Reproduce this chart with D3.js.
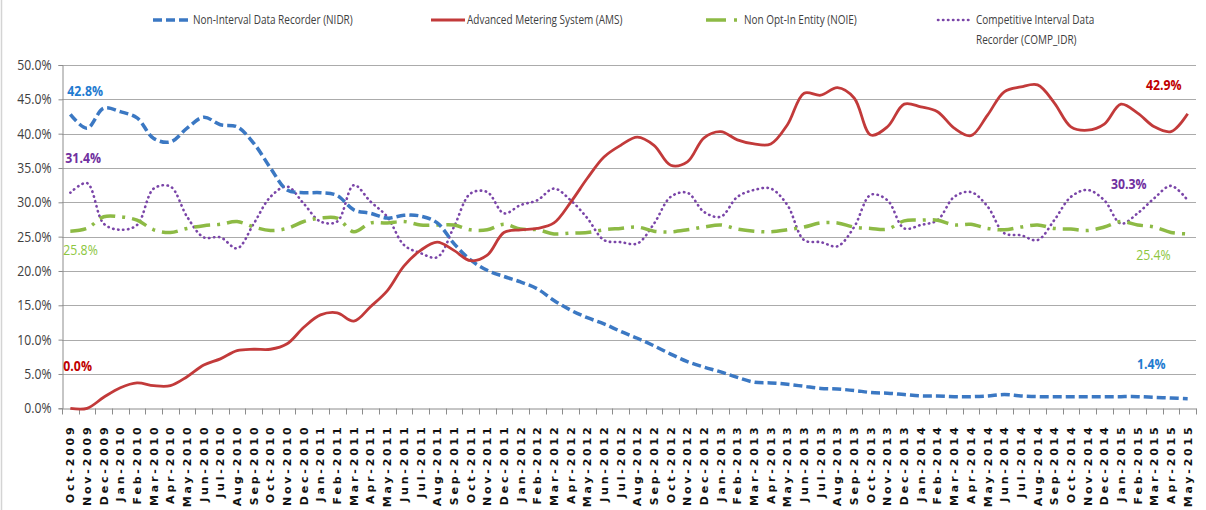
<!DOCTYPE html>
<html>
<head>
<meta charset="utf-8">
<script src="https://cdn.jsdelivr.net/npm/d3@7"></script>
<style>
  body { margin: 0; background: #fff; }
  svg text { font-family: "Open Sans", "Noto Sans", sans-serif; }
</style>
</head>
<body>
<svg id="chart" width="1206" height="510"></svg>
<script>
// month categories (x axis tick labels)
var months = [
  "Oct-2009","Nov-2009","Dec-2009",
  "Jan-2010","Feb-2010","Mar-2010","Apr-2010","May-2010","Jun-2010","Jul-2010","Aug-2010","Sep-2010","Oct-2010","Nov-2010","Dec-2010",
  "Jan-2011","Feb-2011","Mar-2011","Apr-2011","May-2011","Jun-2011","Jul-2011","Aug-2011","Sep-2011","Oct-2011","Nov-2011","Dec-2011",
  "Jan-2012","Feb-2012","Mar-2012","Apr-2012","May-2012","Jun-2012","Jul-2012","Aug-2012","Sep-2012","Oct-2012","Nov-2012","Dec-2012",
  "Jan-2013","Feb-2013","Mar-2013","Apr-2013","May-2013","Jun-2013","Jul-2013","Aug-2013","Sep-2013","Oct-2013","Nov-2013","Dec-2013",
  "Jan-2014","Feb-2014","Mar-2014","Apr-2014","May-2014","Jun-2014","Jul-2014","Aug-2014","Sep-2014","Oct-2014","Nov-2014","Dec-2014",
  "Jan-2015","Feb-2015","Mar-2015","Apr-2015","May-2015"
];

// series values, percent
var nidr = [42.8,40.8,43.7,43.2,42.3,39.3,38.8,40.8,42.4,41.3,
            41.0,38.6,35.0,31.8,31.4,31.4,31.0,28.9,28.4,27.7,
            28.1,28.0,27.0,24.0,21.6,20.1,19.2,18.4,17.4,15.7,
            14.3,13.2,12.3,11.2,10.2,9.1,7.9,6.8,6.0,5.3,
            4.5,3.8,3.7,3.5,3.2,2.9,2.8,2.6,2.3,2.2,
            2.0,1.8,1.8,1.7,1.7,1.8,2.0,1.8,1.7,1.7,
            1.7,1.7,1.7,1.7,1.7,1.6,1.5,1.4];
var ams = [0.0,0.0,1.6,3.0,3.7,3.3,3.3,4.6,6.3,7.2,
           8.4,8.6,8.6,9.4,11.8,13.6,13.9,12.7,14.8,17.1,
           20.7,23.0,24.2,23.0,21.5,22.3,25.6,26.0,26.2,27.0,
           30.0,33.5,36.6,38.3,39.5,38.3,35.4,35.9,39.4,40.3,
           39.1,38.5,38.5,41.3,45.9,45.6,46.7,45.2,39.8,41.0,
           44.3,43.9,43.2,40.8,39.7,42.7,46.1,46.8,47.1,44.5,
           41.0,40.5,41.4,44.3,43.0,41.0,40.3,42.9];
var noie = [25.8,26.2,27.9,27.9,27.4,26.0,25.6,26.2,26.6,26.8,
            27.2,26.4,25.9,26.2,27.2,27.7,27.7,25.7,27.0,27.0,
            27.2,26.7,26.7,26.7,26.0,26.0,26.8,26.1,26.0,25.4,
            25.5,25.6,26.0,26.2,26.4,25.8,25.7,26.0,26.4,26.7,
            26.1,25.8,25.7,26.0,26.4,27.0,27.0,26.4,26.2,26.1,
            27.3,27.4,27.4,26.7,26.8,26.2,26.0,26.4,26.7,26.2,
            26.1,25.9,26.4,27.2,26.7,26.4,25.6,25.4];
var compIdr = [31.4,32.8,26.9,26.0,26.7,32.0,32.3,27.9,24.9,24.9,
               23.3,26.9,30.8,32.3,29.8,27.2,27.2,32.5,30.1,27.9,
               23.8,22.6,22.0,26.4,31.3,31.5,28.4,29.6,30.3,32.0,
               30.3,27.7,24.5,24.2,24.0,26.9,30.8,31.4,28.6,27.9,
               30.8,31.8,32.0,29.6,24.5,24.2,23.6,26.4,31.1,30.3,
               26.2,26.7,27.4,30.8,31.5,29.4,25.5,25.2,24.5,27.4,
               30.8,31.8,30.3,26.9,28.4,30.6,32.4,30.3];

var seriesNames = ["Non-Interval Data Recorder (NIDR)", "Advanced Metering System (AMS)",
                   "Non Opt-In Entity (NOIE)", "Competitive Interval Data|Recorder (COMP_IDR)"];
var yTicks = [0, 5, 10, 15, 20, 25, 30, 35, 40, 45, 50];

// styling per series
var series = [
  {name: seriesNames[0], values: nidr,    color: "#3b78c3", label: "#1f7bd0", width: 3.5, dash: "9,4",      cap: "butt",  lx: [153, 191], tx: 193},
  {name: seriesNames[1], values: ams,     color: "#c23a3a", label: "#c00000", width: 2.8, dash: null,       cap: "butt",  lx: [431, 465], tx: 467},
  {name: seriesNames[2], values: noie,    color: "#8dba45", label: "#8cc640", width: 3.5, dash: "16,7,3,7", cap: "butt",  lx: [706, 737], tx: 744},
  {name: seriesNames[3], values: compIdr, color: "#7a45a8", label: "#7030a0", width: 2.6, dash: "0.4,4.6",  cap: "round", lx: [938, 972], tx: 976}
];

// first/last value annotations: series index, point index, offsets
var annotations = [
  {s: 0, i: 0,  dx: -3, dy: -24, anchor: "start"},
  {s: 3, i: 0,  dx: -5, dy: -35, anchor: "start"},
  {s: 2, i: 0,  dx: -7, dy: 19,  anchor: "start"},
  {s: 1, i: 0,  dx: -7, dy: -43, anchor: "start"},
  {s: 1, i: 67, dx: -6, dy: -29, anchor: "end"},
  {s: 3, i: 67, dx: -41, dy: -17, anchor: "end"},
  {s: 2, i: 67, dx: -17, dy: 21, anchor: "end"},
  {s: 0, i: 67, dx: -22, dy: -35, anchor: "end"}
];

var margin = {top: 65, right: 10, bottom: 102, left: 62},
    width = 1206,
    height = 510,
    narrow = 0.82;   // squeeze text horizontally, Calibri-like

var svg = d3.select("#chart");

// light frame on the left edge
svg.append("line")
  .attr("x1", 1.5).attr("x2", 1.5).attr("y1", 0).attr("y2", height)
  .attr("stroke", "#d4d4d4").attr("stroke-width", 1.5);

var xScale = d3.scaleBand()
  .domain(months)
  .range([margin.left, width - margin.right]);
var yScale = d3.scaleLinear()
  .domain([0, 50])
  .range([height - margin.bottom + 0.3, margin.top]);

function X(d, i) { return xScale(months[i]) + xScale.bandwidth() / 2; }
function Y(d) { return yScale(d); }

// gridlines
svg.append("g")
  .selectAll("line")
  .data(yTicks.filter(function(d) { return d > 0; }))
  .enter().append("line")
  .attr("x1", margin.left).attr("x2", width - margin.right)
  .attr("y1", function(d) { return Math.round(yScale(d)) + 0.5; })
  .attr("y2", function(d) { return Math.round(yScale(d)) + 0.5; })
  .attr("stroke", "#ababab")
  .attr("stroke-width", 1.2);

// y axis
var yAxis = d3.axisLeft(yScale)
  .tickValues(yTicks)
  .tickSize(4)
  .tickPadding(8)
  .tickFormat(function(d) { return d.toFixed(1) + "%"; });
var gy = svg.append("g")
  .attr("transform", "translate(" + (margin.left + 0.5) + ",0)")
  .call(yAxis);
gy.select(".domain").attr("stroke", "#8c8c8c");
gy.selectAll(".tick line").attr("stroke", "#8c8c8c");
gy.selectAll(".tick text")
  .attr("x", 0)
  .attr("transform", "translate(-11,0) scale(0.87,1)")
  .attr("fill", "#404040")
  .style("font-size", "14px");

// x axis: ticks between categories
var xAxis = d3.axisBottom(xScale).tickSize(0).tickPadding(0);
var gx = svg.append("g")
  .attr("transform", "translate(0," + (Math.round(yScale(0)) + 0.5) + ")")
  .call(xAxis);
gx.select(".domain").attr("stroke", "#8c8c8c");
gx.selectAll(".tick line").remove();
gx.selectAll(".sep")
  .data(months.concat(["_end"]))
  .enter().append("line")
  .attr("class", "sep")
  .attr("x1", function(d, i) { return Math.round(margin.left + i * xScale.step()) + 0.5; })
  .attr("x2", function(d, i) { return Math.round(margin.left + i * xScale.step()) + 0.5; })
  .attr("y1", 0).attr("y2", 6)
  .attr("stroke", "#8c8c8c");
gx.selectAll(".tick text")
  .attr("transform", "rotate(-90)")
  .attr("text-anchor", "end")
  .attr("x", -16)
  .attr("y", 0)
  .attr("dy", "0.36em")
  .attr("fill", "#111")
  .style("font-family", "'DejaVu Sans', Verdana, sans-serif")
  .style("font-size", "11px")
  .style("font-weight", "bold")
  .style("letter-spacing", "2.8px");

// lines
var line = d3.line()
  .x(X)
  .y(Y)
  .curve(d3.curveCatmullRom.alpha(0.5));

// draw order: purple, green, blue, red on top
[3, 2, 0, 1].forEach(function(k) {
  var s = series[k];
  svg.append("path")
    .datum(s.values)
    .attr("d", line)
    .attr("fill", "none")
    .attr("stroke", s.color)
    .attr("stroke-width", s.width)
    .attr("stroke-dasharray", s.dash)
    .attr("stroke-linejoin", "round")
    .attr("stroke-linecap", s.cap);
});

// annotations
svg.append("g")
  .selectAll("text")
  .data(annotations)
  .enter().append("text")
  .attr("transform", function(a) {
    var tx = X(0, a.i) + a.dx, ty = Y(series[a.s].values[a.i]) + a.dy;
    return "translate(" + tx + "," + ty + ") scale(" + narrow + ",1)";
  })
  .attr("dy", "0.35em")
  .attr("text-anchor", function(a) { return a.anchor; })
  .attr("fill", function(a) { return series[a.s].label; })
  .style("font-size", "15px")
  .style("font-weight", function(a) { return a.s === 2 ? "normal" : "bold"; })
  .text(function(a) {
    var v = series[a.s].values[a.i];
    return v.toFixed(1) + "%";
  });

// legend
var legend = svg.append("g");
series.forEach(function(s) {
  var noieStyle = s.dash === "16,7,3,7";
  legend.append("line")
    .attr("x1", s.lx[0]).attr("x2", noieStyle ? s.lx[0] + 20 : s.lx[1])
    .attr("y1", 20).attr("y2", 20)
    .attr("stroke", s.color)
    .attr("stroke-width", s.width)
    .attr("stroke-dasharray", noieStyle ? null : s.dash)
    .attr("stroke-linecap", s.cap);
  if (noieStyle) {
    legend.append("line")
      .attr("x1", s.lx[1] - 3).attr("x2", s.lx[1])
      .attr("y1", 20).attr("y2", 20)
      .attr("stroke", s.color).attr("stroke-width", s.width);
  }
  var t = legend.append("text")
    .attr("transform", "translate(" + s.tx + ",20) scale(0.8,1)")
    .attr("fill", "#404040")
    .style("font-size", "12.5px");
  s.name.split("|").forEach(function(part, j) {
    t.append("tspan").attr("x", 0).attr("dy", j === 0 ? "0.35em" : "1.6em").text(part);
  });
});
</script>
</body>
</html>
